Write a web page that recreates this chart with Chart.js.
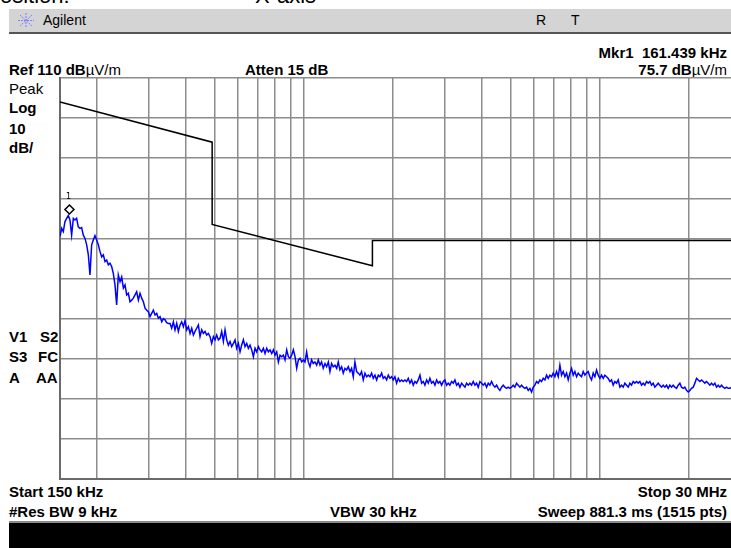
<!DOCTYPE html>
<html>
<head>
<meta charset="utf-8">
<title>Agilent spectrum</title>
<script src="https://cdn.jsdelivr.net/npm/chart.js@4.4.1/dist/chart.umd.min.js"></script>
<style>
  html, body { margin: 0; padding: 0; background: #fff; }
  body { width: 731px; height: 548px; overflow: hidden; position: relative; }
  .t { position: absolute; white-space: nowrap; color: #000; font-family: "Liberation Sans", Arial, sans-serif; font-weight: bold; font-size: 15px; line-height: 15px; }
  .r { right: 4px; }
  .thin { font-weight: normal; }
  .big { position: absolute; top: -15px; font-family: "Liberation Sans", Arial, sans-serif; font-size: 22px; line-height: 22px; color: #000; white-space: nowrap; }
  #bar { position: absolute; left: 9px; top: 9px; width: 722px; height: 23px; background: #d4d4d4; border-bottom: 2px solid #555; }
  #bar span { position: absolute; top: 4px; font-family: "Liberation Sans", Arial, sans-serif; font-size: 14px; line-height: 15px; color: #000; }
  #foot { position: absolute; left: 9px; top: 521px; width: 722px; height: 27px; background: #000; border-top: 2px solid #8a8a8a; }
  #plot { position: absolute; left: 59px; top: 77px; width: 683px; height: 403px; }
</style>
</head>
<body>
<div class="big" style="left:0">osition:</div>
<div class="big" style="left:255px">X-axis</div>

<div id="bar">
  <svg style="position:absolute;left:9px;top:4px" width="16" height="15" viewBox="0 0 16 15">
    <g stroke="#7f7fff" stroke-width="1" stroke-dasharray="2 1">
      <line x1="8" y1="0" x2="8" y2="15"/><line x1="0" y1="7.5" x2="16" y2="7.5"/>
      <line x1="2" y1="2" x2="14" y2="13"/><line x1="14" y1="2" x2="2" y2="13"/>
    </g>
  </svg>
  <span style="left:34px">Agilent</span>
  <span style="left:527px">R</span>
  <span style="left:562px">T</span>
</div>

<div class="t r" style="top:45px">Mkr1&nbsp; 161.439 kHz</div>
<div class="t" style="left:9px;top:62px">Ref 110 dB<span class="thin">µV/m</span></div>
<div class="t" style="left:245px;top:62px">Atten 15 dB</div>
<div class="t r" style="top:62px">75.7 dB<span class="thin">µV/m</span></div>
<div class="t thin" style="left:9px;top:81px">Peak</div>
<div class="t" style="left:9px;top:100px">Log</div>
<div class="t" style="left:9px;top:121px">10</div>
<div class="t" style="left:9px;top:140px">dB/</div>
<div class="t" style="left:9px;top:329px">V1</div><div class="t" style="left:40px;top:329px">S2</div>
<div class="t" style="left:9px;top:349px">S3</div><div class="t" style="left:38px;top:349px">FC</div>
<div class="t" style="left:9px;top:370px">A</div><div class="t" style="left:36px;top:370px">AA</div>
<div class="t" style="left:9px;top:484px">Start 150 kHz</div>
<div class="t r" style="top:484px">Stop 30 MHz</div>
<div class="t" style="left:9px;top:504px">#Res BW 9 kHz</div>
<div class="t" style="left:330px;top:504px">VBW 30 kHz</div>
<div class="t r" style="top:504px">Sweep 881.3 ms (1515 pts)</div>

<div id="plot"><canvas id="spec"></canvas></div>
<div id="foot"></div>

<script>
// grille : verticales aux frequences (kHz), horizontales tous les 10 dB
const gridFreqs = [150, 200, 300, 400, 500, 600, 700, 800, 900,
  1000, 2000, 3000, 4000, 5000, 6000, 7000, 8000, 9000, 10000, 20000, 30000];
const levelTicks = [10, 20, 30, 40, 50, 60, 70, 80, 90, 100, 110];

// ligne limite (kHz / dBuV/m)
const limitFreqs = [150, 490, 490, 1705, 1705, 30000];
const limitDb = [104, 94, 73.5, 63.2, 69.5, 69.5];

// marqueur 1
const markerFreq = 161.439;
const markerDb = 75.7;

// trace mesuree (kHz)
const traceFreqs = [
  150.0,152.0,153.9, 155.9,158.0,160.0, 162.1,164.2,166.4, 168.5,170.7,172.9, 175.2,177.5,179.8,
  182.2,184.6,187.0, 189.4,191.9,194.4, 196.9,199.5,202.1, 204.8,207.5,210.2, 212.9,215.7,218.5,
  221.3,224.2,227.1, 230.1,233.1,236.1, 239.3,242.4,245.6, 248.8,252.0,255.3, 258.6,262.0,265.4,
  268.9,272.4,276.0, 279.6,283.2,286.9, 290.7,294.5,298.3, 302.2,306.1,310.1, 314.2,318.3,322.5,
  326.7,331.0,335.3, 339.6,344.0,348.5, 353.1,357.7,362.4, 367.1,371.9,376.7, 381.7,386.7,391.7,
  396.8,402.0,407.2, 412.6,418.0,423.4, 428.9,434.5,440.2, 445.9,451.7,457.6, 463.6,469.6,475.8,
  482.0,488.3,494.7, 501.1,507.6,514.3, 521.0,527.8,534.7, 541.7,548.8,555.9, 563.2,570.5,578.0,
  585.5,593.1,600.9, 608.7,616.6,624.7, 632.9,641.2,649.5, 658.0,666.6,675.3, 684.1,693.0,702.1,
  711.2,720.5,729.9, 739.4,749.0,758.8, 768.8,778.8,789.0, 799.3,809.7,820.3, 831.0,841.8,852.8,
  863.9,875.2,886.6, 898.2,909.9,921.8, 933.8,946.0,958.3, 970.8,983.5,996.3, 1009,1022,1035,
  1049,1062,1076, 1090,1105,1119, 1134,1148,1163, 1179,1194,1210, 1225,1241,1257,
  1274,1291,1307, 1324,1342,1359, 1377,1395,1413, 1432,1450,1469, 1488,1508,1527,
  1547,1567,1588, 1609,1630,1651, 1673,1694,1716, 1739,1762,1785, 1808,1831,1855,
  1879,1904,1929, 1954,1980,2005, 2031,2058,2085, 2112,2140,2167, 2196,2224,2253,
  2283,2313,2343, 2373,2404,2436, 2468,2500,2532, 2565,2599,2633, 2667,2702,2737,
  2773,2809,2846, 2883,2920,2959, 2997,3036,3076, 3116,3157,3198, 3240,3282,3325,
  3368,3412,3457, 3502,3547,3594, 3640,3688,3736, 3785,3834,3884, 3935,3986,4038,
  4091,4144,4198, 4253,4309,4365, 4422,4480,4538, 4597,4657,4718, 4780,4842,4905,
  4969,5034,5100, 5166,5233,5302, 5371,5441,5512, 5584,5657,5731, 5806,5881,5958,
  6036,6114,6194, 6275,6357,6440, 6524,6609,6695, 6783,6871,6961, 7052,7144,7237,
  7331,7427,7524, 7622,7722,7822, 7924,8028,8133, 8239,8346,8455, 8565,8677,8790,
  8905,9021,9139, 9258,9379,9501, 9625,9751,9878, 10007,10138,10270, 10404,10540,10677,
  10816,10957,11100, 11245,11392,11541, 11691,11844,11998, 12155,12314,12474, 12637,12802,12969,
  13138,13309,13483, 13659,13837,14018, 14201,14386,14574, 14764,14957,15152, 15350,15550,15753,
  15958,16166,16377, 16591,16808,17027, 17249,17474,17703, 17934,18168,18405, 18645,18888,19135,
  19384,19637,19893, 20153,20416,20682, 20953,21226,21503, 21784,22068,22356, 22648,22944,23244,
  23546,23853,24165, 24480,24800,25125, 25451,25783,26120, 26460,26805,27155, 27510,27869,28233,
  28601,28974,29353, 29735,30000
];

// trace mesuree (dBuV/m)
const traceDb = [
  70.5,72.5,71.7, 74.2,75.0,75.7, 74.6,70.8,75.0, 74.6,75.0,72.9, 72.5,72.7,70.8,
  70.0,68.4,65.9, 60.9,68.4,69.6, 70.7,69.6,68.4, 66.7,65.4,65.9, 64.2,64.6,63.4,
  63.8,63.0,61.3, 58.4,53.4,60.9, 59.2,60.4,57.6, 58.4,55.9,56.3, 54.2,54.6,55.1,
  55.9,56.7,54.6, 56.3,55.1,54.2, 52.6,52.1,51.7, 50.5,51.3,52.1, 50.9,51.3,50.1,
  50.5,49.2,50.0, 49.7,49.0,48.8, 48.8,47.6,49.2, 47.2,48.8,46.8, 48.4,49.2,48.0,
  49.5,47.2,48.0, 46.3,47.6,45.9, 46.8,47.6,48.4, 45.5,47.2,46.3, 46.8,45.9,46.3,
  45.5,43.8,45.5, 44.7,45.9,44.7, 45.1,46.8,44.3, 47.2,44.7,43.4, 44.3,43.0,43.8,
  44.7,42.6,43.8, 41.7,43.4,44.7, 43.0,43.8,42.6, 43.4,42.2,40.5, 42.6,41.7,43.0,
  42.2,41.7,42.6, 41.3,42.6,41.7, 42.2,41.3,42.2, 40.9,41.7,39.2, 40.9,40.5,40.9,
  39.7,42.2,40.5, 40.1,40.9,42.2, 40.5,37.6,39.7, 40.1,39.2,39.7, 39.2,41.7,39.2,
  38.0,39.7,38.8, 39.2,38.4,39.7, 38.4,39.2,37.6, 38.8,38.0,39.2, 36.8,38.8,38.0,
  38.4,37.6,39.2, 37.2,38.0,36.4, 37.6,37.2,38.0, 36.8,37.6,35.5, 39.2,36.8,36.4,
  35.9,36.8,34.7, 36.4,35.5,35.9, 35.5,36.4,35.1, 35.9,34.7,35.9, 35.5,36.4,35.1,
  35.5,34.7,35.9, 35.1,35.5,34.7, 35.5,33.9,35.1, 34.3,34.7,34.3, 34.7,34.3,35.1,
  33.9,34.7,33.4, 34.3,33.9,34.7, 35.9,33.9,34.3, 33.4,34.7,33.9, 35.1,33.9,34.3,
  33.4,34.7,33.9, 34.3,33.4,34.3, 34.7,33.4,33.9, 33.4,34.3,33.9, 34.7,33.4,33.9,
  32.9,33.9,33.4, 32.9,33.9,33.4, 33.9,33.4,34.3, 33.4,33.9,32.9, 34.3,33.9,33.4,
  33.9,32.9,33.9, 33.4,34.3,33.4, 32.9,33.4,32.6, 32.1,32.9,33.4, 32.9,32.6,32.9,
  32.6,32.9,33.4, 32.9,33.9,33.4, 32.9,33.4,32.9, 32.6,32.9,32.1, 32.6,31.7,32.9,
  33.4,34.3,33.9, 34.7,34.3,35.1, 34.7,35.9,35.1, 35.9,35.5,36.4, 35.5,36.8,35.5,
  38.4,35.9,36.8, 35.5,36.4,34.7, 36.4,37.6,35.9, 36.8,35.5,36.4, 35.9,35.5,36.8,
  35.9,36.4,36.8, 35.5,34.7,36.4, 35.5,37.2,35.9, 35.1,35.9,35.1, 35.9,35.5,35.1,
  34.3,34.7,33.4, 34.3,33.9,34.7, 32.9,33.4,32.9, 33.9,33.4,32.9, 33.9,33.4,34.3,
  33.9,34.3,33.9, 34.3,33.4,33.9, 33.4,34.3,33.9, 34.3,33.4,33.9, 32.9,33.4,33.9,
  33.4,32.9,33.4, 32.9,33.4,32.6, 33.4,32.9,33.4, 32.9,32.6,33.4, 33.9,32.9,32.6,
  32.9,32.1,31.7, 32.1,32.6,32.9, 33.9,35.1,34.7, 34.3,34.7,34.3, 33.9,34.3,33.9,
  33.4,33.9,33.4, 33.9,32.9,33.4, 32.9,33.4,32.9, 32.6,32.9,32.6, 32.6,32.9,32.6,
  33.1,32.8,32.5, 32.7,32.9
];

if (traceFreqs.length !== traceDb.length) {
  console.error("Trace : longueurs differentes", traceFreqs.length, traceDb.length);
}

// dessine le losange du marqueur au-dessus du point
const markerPlugin = {
  id: "marker",
  afterDatasetsDraw(chart) {
    const { ctx, scales } = chart;
    const px = scales.x.getPixelForValue(markerFreq);
    const py = scales.y.getPixelForValue(markerDb);
    const cy = py - 6;
    const r = 4.5;
    ctx.save();
    ctx.beginPath();
    ctx.moveTo(px, cy - r);
    ctx.lineTo(px + r, cy);
    ctx.lineTo(px, cy + r);
    ctx.lineTo(px - r, cy);
    ctx.closePath();
    ctx.fillStyle = "#fff";
    ctx.fill();
    ctx.strokeStyle = "#000";
    ctx.lineWidth = 1.5;
    ctx.stroke();
    ctx.fillStyle = "#000";
    ctx.font = "8px 'DejaVu Sans', sans-serif";
    ctx.textAlign = "center";
    ctx.fillText("1", px - 1, cy - r - 6);
    ctx.restore();
  }
};

const gridStyle = { color: "#8c8c8c", lineWidth: 1.5, drawTicks: false };
const borderStyle = { display: true, color: "#6a6a6a", width: 2 };

try {
  const ctxSpec = document.getElementById("spec");
  new Chart(ctxSpec, {
    type: "line",
    data: {
      datasets: [
        {
          label: "Limite",
          data: limitFreqs.map((f, i) => ({ x: f, y: limitDb[i] })),
          borderColor: "#000",
          borderWidth: 1.5,
          pointRadius: 0,
          tension: 0
        },
        {
          label: "Trace",
          data: traceFreqs.map((f, i) => ({ x: f, y: traceDb[i] })),
          borderColor: "#0000ff",
          borderWidth: 1.5,
          pointRadius: 0,
          tension: 0
        }
      ]
    },
    options: {
      responsive: true,
      maintainAspectRatio: false,
      animation: false,
      layout: { padding: 1 },
      plugins: { legend: { display: false }, tooltip: { enabled: false } },
      scales: {
        x: {
          type: "logarithmic",
          min: 150,
          max: 30000,
          afterBuildTicks: (s) => { s.ticks = gridFreqs.map((v) => ({ value: v })); },
          ticks: { display: false },
          grid: gridStyle,
          border: borderStyle
        },
        y: {
          min: 10,
          max: 110,
          afterBuildTicks: (s) => { s.ticks = levelTicks.map((v) => ({ value: v })); },
          ticks: { display: false },
          grid: gridStyle,
          border: borderStyle
        }
      }
    },
    plugins: [markerPlugin]
  });
} catch (error) {
  console.error("Erreur graphique:", error);
}
</script>
</body>
</html>
